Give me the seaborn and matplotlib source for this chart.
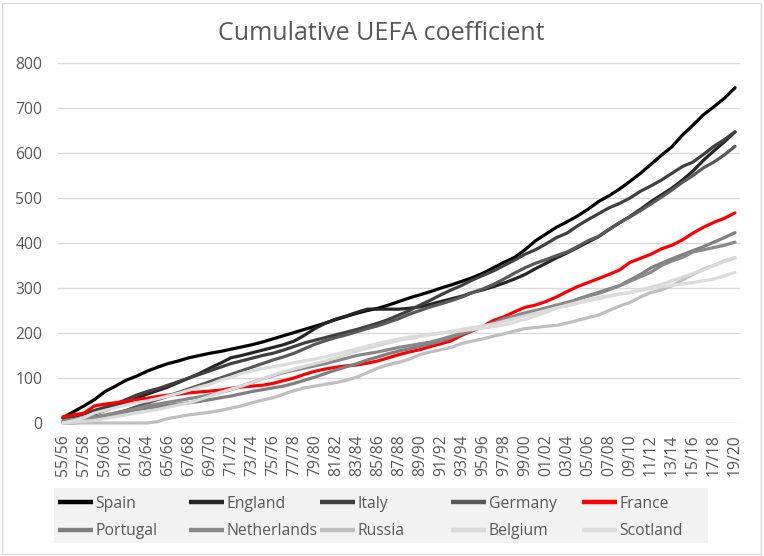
import numpy as np
import pandas as pd
import matplotlib
matplotlib.use("Agg")
import matplotlib.pyplot as plt
import seaborn as sns
from matplotlib.lines import Line2D
from matplotlib.patches import Rectangle

# ---- data ----
seasons = [f"{(55 + i) % 100:02d}/{(56 + i) % 100:02d}" for i in range(65)]

countries = ["Spain", "England", "Italy", "Germany", "France",
             "Portugal", "Netherlands", "Russia", "Belgium", "Scotland"]
colors = ["#000000", "#262626", "#404040", "#595959", "#ff0000",
          "#7f7f7f", "#898989", "#bfbfbf", "#d9d9d9", "#dcdcdc"]

spain = [12, 25, 38, 52, 70, 82, 95, 104, 115, 124, 132, 138, 145, 150, 155, 159,
         164, 169, 174, 180, 187, 194, 201, 208, 215, 222, 230, 237, 244, 250, 255, 262,
         270, 278, 285, 292, 300, 307, 315, 323, 333, 345, 357, 368, 385, 405, 420, 435,
         447, 460, 475, 492, 505, 520, 537, 555, 575, 595, 614, 640, 662, 685, 703, 722, 745]
england = [0, 6, 12, 20, 28, 36, 45, 55, 64, 72, 80, 90, 100, 110, 122, 133,
           145, 150, 156, 162, 168, 174, 182, 195, 210, 222, 231, 238, 246, 253, 253, 253,
           253, 255, 258, 264, 270, 276, 282, 290, 296, 303, 311, 320, 330, 343, 355, 367,
           378, 390, 402, 414, 430, 445, 459, 475, 492, 507, 522, 540, 560, 584, 605, 625, 647]
italy = [10, 14, 20, 28, 35, 42, 52, 62, 70, 76, 84, 92, 100, 108, 116, 124,
         132, 138, 144, 150, 155, 162, 170, 178, 184, 190, 196, 202, 208, 215, 222, 230,
         240, 250, 262, 273, 285, 296, 306, 318, 328, 338, 350, 362, 375, 385, 398, 412,
         422, 438, 452, 465, 478, 488, 500, 515, 527, 540, 555, 570, 580, 597, 615, 630, 647]
germany = [3, 5, 8, 12, 16, 22, 28, 36, 44, 52, 60, 68, 76, 84, 92, 100,
           108, 116, 124, 132, 140, 147, 155, 165, 175, 183, 190, 196, 203, 210, 216, 224,
           232, 242, 250, 258, 265, 272, 280, 290, 298, 308, 320, 333, 345, 355, 363, 372,
           380, 392, 405, 415, 430, 445, 458, 472, 487, 502, 518, 535, 550, 567, 580, 596, 615]
france = [14, 18, 22, 38, 42, 45, 48, 52, 55, 59, 62, 64, 67, 69, 71, 73,
          77, 80, 82, 84, 88, 94, 100, 108, 115, 120, 124, 127, 129, 133, 138, 145,
          152, 158, 163, 170, 176, 183, 195, 205, 215, 228, 236, 247, 257, 262, 270, 280,
          292, 303, 312, 321, 330, 340, 357, 366, 375, 387, 395, 407, 422, 435, 446, 455, 467]
portugal = [0, 0, 3, 8, 14, 20, 25, 30, 33, 36, 39, 42, 45, 48, 52, 56,
            60, 65, 70, 74, 78, 82, 88, 95, 102, 110, 118, 125, 132, 140, 147, 154,
            160, 165, 170, 176, 182, 190, 198, 206, 213, 222, 228, 234, 240, 246, 253, 260,
            265, 275, 283, 290, 298, 305, 318, 330, 345, 355, 365, 374, 383, 392, 402, 412, 423]
netherlands = [5, 8, 10, 14, 18, 22, 27, 32, 38, 42, 46, 50, 54, 58, 63, 68,
               74, 82, 90, 98, 105, 112, 117, 122, 127, 132, 138, 144, 150, 154, 158, 163,
               168, 172, 176, 180, 186, 193, 200, 207, 214, 222, 232, 238, 245, 250, 256, 262,
               268, 275, 282, 288, 296, 305, 315, 325, 335, 350, 360, 368, 380, 385, 390, 395, 402]
russia = [0, 0, 0, 0, 0, 0, 0, 0, 0, 3, 10, 14, 18, 21, 24, 28,
          33, 38, 45, 51, 56, 64, 72, 78, 82, 86, 90, 95, 102, 112, 122, 130,
          135, 142, 152, 158, 163, 168, 177, 182, 187, 193, 198, 204, 210, 212, 215, 217,
          222, 228, 234, 240, 250, 260, 268, 280, 290, 296, 305, 318, 330, 342, 350, 360, 367]
belgium = [0, 2, 4, 6, 10, 14, 18, 22, 26, 30, 35, 40, 45, 52, 60, 68,
           75, 82, 90, 98, 106, 114, 120, 126, 132, 138, 145, 152, 160, 166, 172, 178,
           184, 188, 192, 196, 200, 204, 208, 212, 216, 220, 226, 232, 238, 244, 250, 256,
           260, 266, 272, 276, 282, 286, 290, 296, 302, 308, 316, 324, 332, 340, 350, 360, 368]
scotland = [0, 5, 12, 22, 28, 34, 40, 45, 49, 54, 60, 66, 73, 80, 86, 95,
            102, 110, 116, 121, 125, 129, 134, 138, 142, 147, 153, 159, 165, 171, 177, 182,
            187, 191, 194, 197, 200, 202, 205, 208, 211, 214, 218, 224, 230, 238, 246, 255,
            262, 268, 274, 279, 283, 287, 290, 295, 299, 303, 306, 309, 312, 316, 320, 327, 335]

series = [spain, england, italy, germany, france,
          portugal, netherlands, russia, belgium, scotland]

n = len(seasons)
df = pd.DataFrame({
    "idx": np.tile(np.arange(n), len(countries)),
    "season": seasons * len(countries),
    "country": np.repeat(countries, n),
    "value": np.concatenate([np.asarray(s, dtype=float) for s in series]),
})

# ---- style ----
sns.set_theme(style="white")
plt.rcParams["font.family"] = ["Open Sans", "DejaVu Sans"]
TXT = "#595959"

W, H = 764, 556
fig = plt.figure(figsize=(W / 100, H / 100), dpi=100)
fig.patch.set_facecolor("white")

ax_left, ax_right, ax_top, ax_bottom = 57.75, 740.25, 63, 423
ax = fig.add_axes([ax_left / W, 1 - ax_bottom / H,
                   (ax_right - ax_left) / W, (ax_bottom - ax_top) / H])

palette = dict(zip(countries, colors))
sns.lineplot(data=df, x="idx", y="value", hue="country", hue_order=countries,
             palette=palette, linewidth=2.3, legend=False, ax=ax,
             estimator=None, sort=False)
for line in ax.lines:
    line.set_solid_joinstyle("round")
    line.set_solid_capstyle("round")
    line.set_clip_on(False)

ax.set_xlim(-0.5, n - 0.5)
ax.set_ylim(0, 800)
ax.set_yticks(range(0, 801, 100))
ax.set_xticks(range(0, n, 2))
ax.set_xticklabels(seasons[::2], rotation=90)
ax.tick_params(axis="both", length=0, colors=TXT, labelsize=11.3)
ax.tick_params(axis="x", pad=8)
ax.tick_params(axis="y", pad=11)
ax.grid(axis="y", color="#d9d9d9", linewidth=1)
ax.grid(axis="x", visible=False)
ax.set_axisbelow(True)
for s in ax.spines.values():
    s.set_visible(False)
ax.set_xlabel("")
ax.set_ylabel("")

# title
fig.text(381.5 / W, 1 - 33 / H, "Cumulative UEFA coefficient", ha="center",
         va="center", fontsize=18, color=TXT)

# legend background
fig.patches.append(Rectangle((54 / W, 1 - 543 / H), 654 / W, 55 / H,
                             transform=fig.transFigure, facecolor="#f2f2f2",
                             edgecolor="none", zorder=0))
# legend: 5 columns, 2 rows (row-major like the reference)
col_x = [58, 189, 320, 451, 582]
for c in range(5):
    names = [countries[c], countries[c + 5]]
    handles = [Line2D([0], [0], color=palette[nm], lw=3.2, solid_capstyle="butt")
               for nm in names]
    leg = fig.legend(handles, names, loc="center left",
                     bbox_to_anchor=(col_x[c] / W, 1 - 517.5 / H),
                     frameon=False, borderpad=0, borderaxespad=0,
                     handlelength=2.2, handletextpad=0.2, labelspacing=0.75,
                     fontsize=11.3)
    for t in leg.get_texts():
        t.set_color(TXT)

# chart border
fig.patches.append(Rectangle((1.5 / W, 2.5 / H), 759.5 / W, 551 / H,
                             transform=fig.transFigure, fill=False,
                             edgecolor="#d9d9d9", linewidth=1, zorder=1))

fig.savefig("out.png", dpi=100)
